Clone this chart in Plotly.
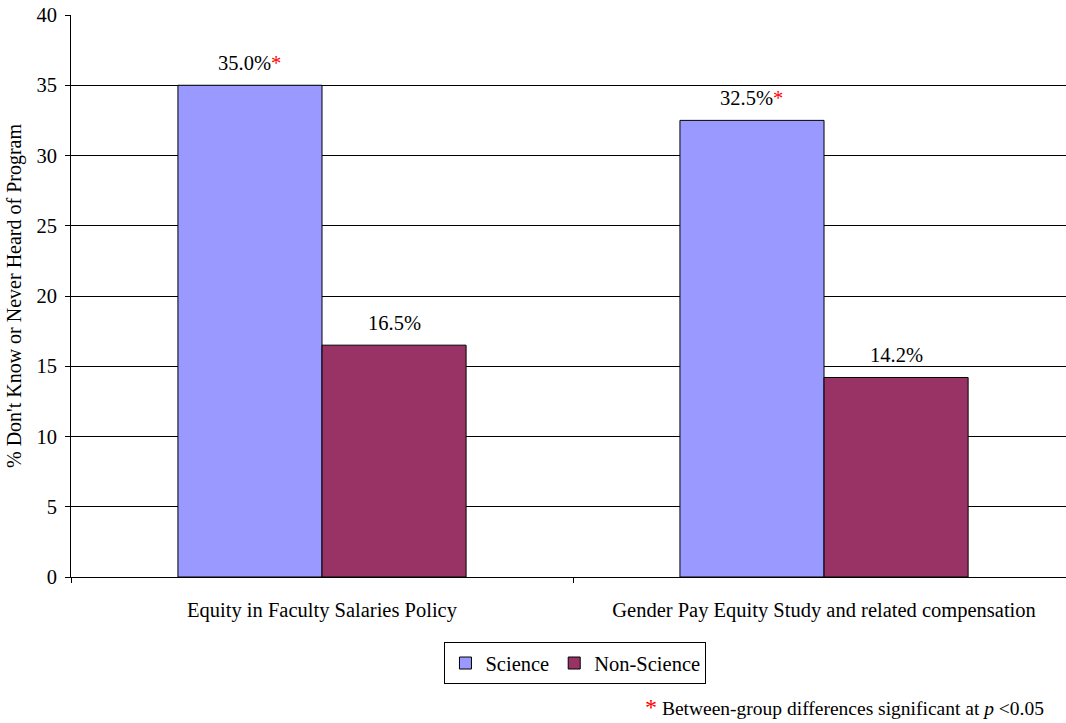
import plotly.graph_objects as go

categories = ["Equity in Faculty Salaries Policy",
              "Gender Pay Equity Study and related compensation"]
science = [35.0, 32.5]
non_science = [16.5, 14.2]
science_sig = [True, True]
non_science_sig = [False, False]
y_ticks = [0, 5, 10, 15, 20, 25, 30, 35, 40]

FONT = "Liberation Serif"
STAR = "<span style='color:#ff0000'>*</span>"
BARGAP = 0.426

fig = go.Figure()
fig.add_trace(go.Bar(
    name="Science", x=categories, y=science,
    marker=dict(color="#9999FF", line=dict(color="#000000", width=1)),
))
fig.add_trace(go.Bar(
    name="Non-Science", x=categories, y=non_science,
    marker=dict(color="#993366", line=dict(color="#000000", width=1)),
))

# value labels above each bar, red asterisk where the difference is significant
half = (1 - BARGAP) / 4
for values, sig, shift in ((science, science_sig, -half), (non_science, non_science_sig, half)):
    for i, (v, s) in enumerate(zip(values, sig)):
        fig.add_annotation(
            xref="x", yref="y", x=i + shift, y=v,
            text=f"{v:.1f}%" + (STAR if s else ""),
            showarrow=False, xanchor="center", yanchor="bottom", yshift=9,
            font=dict(family=FONT, size=20.5, color="#000000"),
        )

fig.update_layout(
    width=1066, height=723,
    margin=dict(l=71, r=0, t=15, b=146),
    paper_bgcolor="white", plot_bgcolor="white",
    font=dict(family=FONT, size=20.5, color="#000000"),
    barmode="group", bargap=BARGAP, bargroupgap=0,
    showlegend=True,
    legend=dict(orientation="h", x=0.507, xanchor="center", y=-0.116, yanchor="top",
                bordercolor="#000000", borderwidth=1, font=dict(family=FONT, size=20.5),
                itemwidth=30, tracegroupgap=0),
)
fig.update_xaxes(
    type="category", range=[-0.5, 1.482],
    showline=True, linecolor="#000000", linewidth=1,
    ticks="outside", tickson="boundaries", ticklen=5, tickcolor="#000000",
    showgrid=False, tickfont=dict(family=FONT, size=20.5),
    ticklabelstandoff=14,
)
fig.update_yaxes(
    range=[0, 40], tickvals=y_ticks,
    showline=True, linecolor="#000000", linewidth=1,
    ticks="outside", ticklen=5, tickcolor="#000000",
    showgrid=True, gridcolor="#000000", gridwidth=1,
    zeroline=False, tickfont=dict(family=FONT, size=20.5),
    ticklabelstandoff=4,
    title=dict(text="% Don't Know or Never Heard of Program",
               font=dict(family=FONT, size=20), standoff=9),
)

fig.add_annotation(
    xref="paper", yref="paper", x=(1046 - 71) / 995, y=-0.232,
    xanchor="right", yanchor="middle", showarrow=False,
    text="<span style='color:#ff0000;font-size:24px'>*</span> Between-group differences significant at <i>p</i> &lt;0.05",
    font=dict(family=FONT, size=19.5, color="#000000"),
)

fig.write_html("out.html")
